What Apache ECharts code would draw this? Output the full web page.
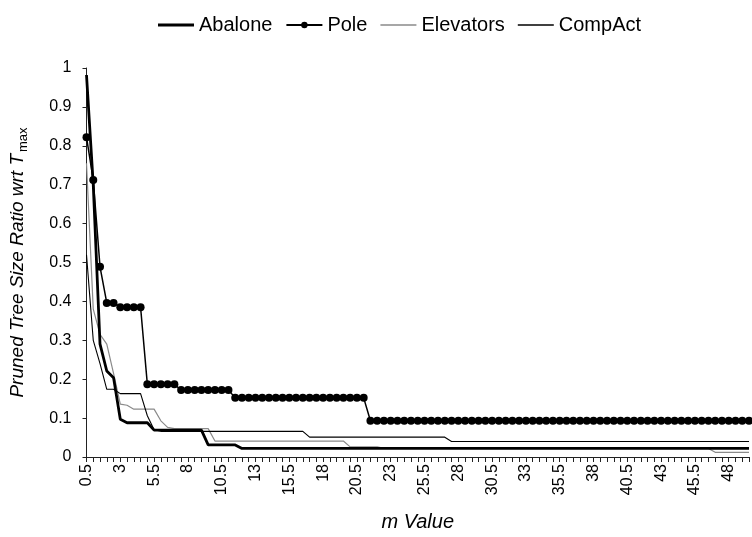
<!DOCTYPE html>
<html>
<head>
<meta charset="utf-8">
<script src="https://cdn.jsdelivr.net/npm/echarts@6/dist/echarts.min.js"></script>
<style>
  html, body { margin: 0; padding: 0; background: #fff; }
  #chart { width: 752px; height: 537px; }
</style>
</head>
<body>
<div id="chart"></div>
<script>
// m values along the category axis
const mValues = [
  '0.5','1','1.5','2','2.5','3','3.5','4','4.5','5',
  '5.5','6','6.5','7','7.5','8','8.5','9','9.5','10',
  '10.5','11','11.5','12','12.5','13','13.5','14','14.5','15',
  '15.5','16','16.5','17','17.5','18','18.5','19','19.5','20',
  '20.5','21','21.5','22','22.5','23','23.5','24','24.5','25',
  '25.5','26','26.5','27','27.5','28','28.5','29','29.5','30',
  '30.5','31','31.5','32','32.5','33','33.5','34','34.5','35',
  '35.5','36','36.5','37','37.5','38','38.5','39','39.5','40',
  '40.5','41','41.5','42','42.5','43','43.5','44','44.5','45',
  '45.5','46','46.5','47','47.5','48','48.5','49','49.5'
];

// Pruned tree size ratio for each dataset, one value per m
const abalone = [
  0.982, 0.700, 0.290, 0.221, 0.204, 0.097, 0.088, 0.088, 0.088, 0.088,
  0.069, 0.069, 0.069, 0.069, 0.069, 0.069, 0.069, 0.069, 0.031, 0.031,
  0.031, 0.031, 0.031, 0.022, 0.022, 0.022, 0.022, 0.022, 0.022, 0.022,
  0.022, 0.022, 0.022, 0.022, 0.022, 0.022, 0.022, 0.022, 0.022, 0.022,
  0.022, 0.022, 0.022, 0.022, 0.022, 0.022, 0.022, 0.022, 0.022, 0.022,
  0.022, 0.022, 0.022, 0.022, 0.022, 0.022, 0.022, 0.022, 0.022, 0.022,
  0.022, 0.022, 0.022, 0.022, 0.022, 0.022, 0.022, 0.022, 0.022, 0.022,
  0.022, 0.022, 0.022, 0.022, 0.022, 0.022, 0.022, 0.022, 0.022, 0.022,
  0.022, 0.022, 0.022, 0.022, 0.022, 0.022, 0.022, 0.022, 0.022, 0.022,
  0.022, 0.022, 0.022, 0.022, 0.022, 0.022, 0.022, 0.022, 0.022
];

const pole = [
  0.822, 0.712, 0.489, 0.396, 0.396, 0.385, 0.385, 0.385, 0.385, 0.187,
  0.187, 0.187, 0.187, 0.187, 0.172, 0.172, 0.172, 0.172, 0.172, 0.172,
  0.172, 0.172, 0.152, 0.152, 0.152, 0.152, 0.152, 0.152, 0.152, 0.152,
  0.152, 0.152, 0.152, 0.152, 0.152, 0.152, 0.152, 0.152, 0.152, 0.152,
  0.152, 0.152, 0.093, 0.093, 0.093, 0.093, 0.093, 0.093, 0.093, 0.093,
  0.093, 0.093, 0.093, 0.093, 0.093, 0.093, 0.093, 0.093, 0.093, 0.093,
  0.093, 0.093, 0.093, 0.093, 0.093, 0.093, 0.093, 0.093, 0.093, 0.093,
  0.093, 0.093, 0.093, 0.093, 0.093, 0.093, 0.093, 0.093, 0.093, 0.093,
  0.093, 0.093, 0.093, 0.093, 0.093, 0.093, 0.093, 0.093, 0.093, 0.093,
  0.093, 0.093, 0.093, 0.093, 0.093, 0.093, 0.093, 0.093, 0.093
];

const elevators = [
  0.755, 0.380, 0.315, 0.290, 0.215, 0.136, 0.133, 0.123, 0.123, 0.123,
  0.123, 0.093, 0.076, 0.073, 0.073, 0.073, 0.073, 0.073, 0.073, 0.041,
  0.041, 0.041, 0.041, 0.041, 0.041, 0.041, 0.041, 0.041, 0.041, 0.041,
  0.041, 0.041, 0.041, 0.041, 0.041, 0.041, 0.041, 0.041, 0.041, 0.026,
  0.026, 0.026, 0.026, 0.026, 0.022, 0.022, 0.022, 0.022, 0.022, 0.022,
  0.022, 0.022, 0.022, 0.022, 0.022, 0.022, 0.022, 0.022, 0.022, 0.022,
  0.022, 0.022, 0.022, 0.022, 0.022, 0.022, 0.022, 0.022, 0.022, 0.022,
  0.022, 0.022, 0.022, 0.022, 0.022, 0.022, 0.022, 0.022, 0.022, 0.022,
  0.022, 0.022, 0.022, 0.022, 0.022, 0.022, 0.022, 0.022, 0.022, 0.022,
  0.022, 0.022, 0.022, 0.012, 0.012, 0.012, 0.012, 0.012, 0.012
];

const compAct = [
  0.520, 0.300, 0.240, 0.174, 0.174, 0.163, 0.163, 0.163, 0.163, 0.106,
  0.070, 0.066, 0.066, 0.066, 0.066, 0.066, 0.066, 0.066, 0.066, 0.066,
  0.066, 0.066, 0.066, 0.066, 0.066, 0.066, 0.066, 0.066, 0.066, 0.066,
  0.066, 0.066, 0.066, 0.051, 0.051, 0.051, 0.051, 0.051, 0.051, 0.051,
  0.051, 0.051, 0.051, 0.051, 0.051, 0.051, 0.051, 0.051, 0.051, 0.051,
  0.051, 0.051, 0.051, 0.051, 0.040, 0.040, 0.040, 0.040, 0.040, 0.040,
  0.040, 0.040, 0.040, 0.040, 0.040, 0.040, 0.040, 0.040, 0.040, 0.040,
  0.040, 0.040, 0.040, 0.040, 0.040, 0.040, 0.040, 0.040, 0.040, 0.040,
  0.040, 0.040, 0.040, 0.040, 0.040, 0.040, 0.040, 0.040, 0.040, 0.040,
  0.040, 0.040, 0.040, 0.040, 0.040, 0.040, 0.040, 0.040, 0.040
];

const seriesNames = ['Abalone', 'Pole', 'Elevators', 'CompAct'];
const yTicks = ['0', '0.1', '0.2', '0.3', '0.4', '0.5', '0.6', '0.7', '0.8', '0.9', '1'];

const FONT = '"Liberation Sans", Arial, sans-serif';

// Plain line icons for the legend entries drawn without markers
const lineIcon = function (h) { return 'path://M0,0H36V' + h + 'H0Z'; };

const chart = echarts.init(document.getElementById('chart'), null, { renderer: 'canvas' });

chart.setOption({
  animation: false,
  backgroundColor: '#ffffff',
  textStyle: { fontFamily: FONT, color: '#000' },
  legend: {
    data: [
      { name: seriesNames[0], icon: lineIcon(2.8) },
      { name: seriesNames[1] },
      { name: seriesNames[2], icon: lineIcon(1.4) },
      { name: seriesNames[3], icon: lineIcon(1.7) }
    ],
    left: 153,
    top: 10,
    itemWidth: 36,
    itemHeight: 8,
    itemGap: 13,
    textStyle: { fontFamily: FONT, fontSize: 20, color: '#000' }
  },
  grid: { left: 85, right: 3, top: 68, bottom: 79, containLabel: false },
  xAxis: {
    type: 'category',
    data: mValues,
    boundaryGap: false,
    name: 'm Value',
    nameLocation: 'middle',
    nameGap: 55,
    nameTextStyle: { fontFamily: FONT, fontSize: 20, fontStyle: 'italic', color: '#000' },
    axisLine: { show: true, lineStyle: { color: '#222', width: 1 } },
    axisTick: { show: true, interval: 0, length: 5, lineStyle: { color: '#222' } },
    axisLabel: {
      interval: 4,
      rotate: 90,
      margin: 7,
      fontFamily: FONT,
      fontSize: 16,
      color: '#000'
    },
    splitLine: { show: false }
  },
  yAxis: {
    type: 'value',
    min: 0,
    max: 1,
    interval: 0.1,
    name: '{i|Pruned Tree Size Ratio wrt T}{s|max}',
    nameLocation: 'middle',
    nameRotate: 90,
    nameGap: 57,
    nameTextStyle: {
      fontFamily: FONT,
      color: '#000',
      rich: {
        i: { fontFamily: FONT, fontSize: 19, fontStyle: 'italic', color: '#000', lineHeight: 24 },
        s: { fontFamily: FONT, fontSize: 13, color: '#000', verticalAlign: 'bottom', lineHeight: 24, padding: [0, 0, 0, 2] }
      }
    },
    axisLine: { show: true, lineStyle: { color: '#222', width: 1 } },
    axisTick: { show: true, length: 4, lineStyle: { color: '#222' } },
    axisLabel: {
      margin: 15,
      fontFamily: FONT,
      fontSize: 16,
      color: '#000',
      formatter: function (v) { return yTicks[Math.round(v * 10)]; }
    },
    splitLine: { show: false }
  },
  series: [
    {
      name: 'Abalone', type: 'line', data: abalone, z: 3,
      symbol: 'none', lineStyle: { color: '#000', width: 2.8 }, itemStyle: { color: '#000' }
    },
    {
      name: 'Pole', type: 'line', data: pole, z: 4,
      symbol: 'circle', symbolSize: 8, showSymbol: true, showAllSymbol: true,
      lineStyle: { color: '#000', width: 1.5 }, itemStyle: { color: '#000', borderWidth: 0 }
    },
    {
      name: 'Elevators', type: 'line', data: elevators, z: 2,
      symbol: 'none', lineStyle: { color: '#8a8a8a', width: 1.2 }, itemStyle: { color: '#8a8a8a' }
    },
    {
      name: 'CompAct', type: 'line', data: compAct, z: 2,
      symbol: 'none', lineStyle: { color: '#000', width: 1.1 }, itemStyle: { color: '#000' }
    }
  ]
});
</script>
</body>
</html>
